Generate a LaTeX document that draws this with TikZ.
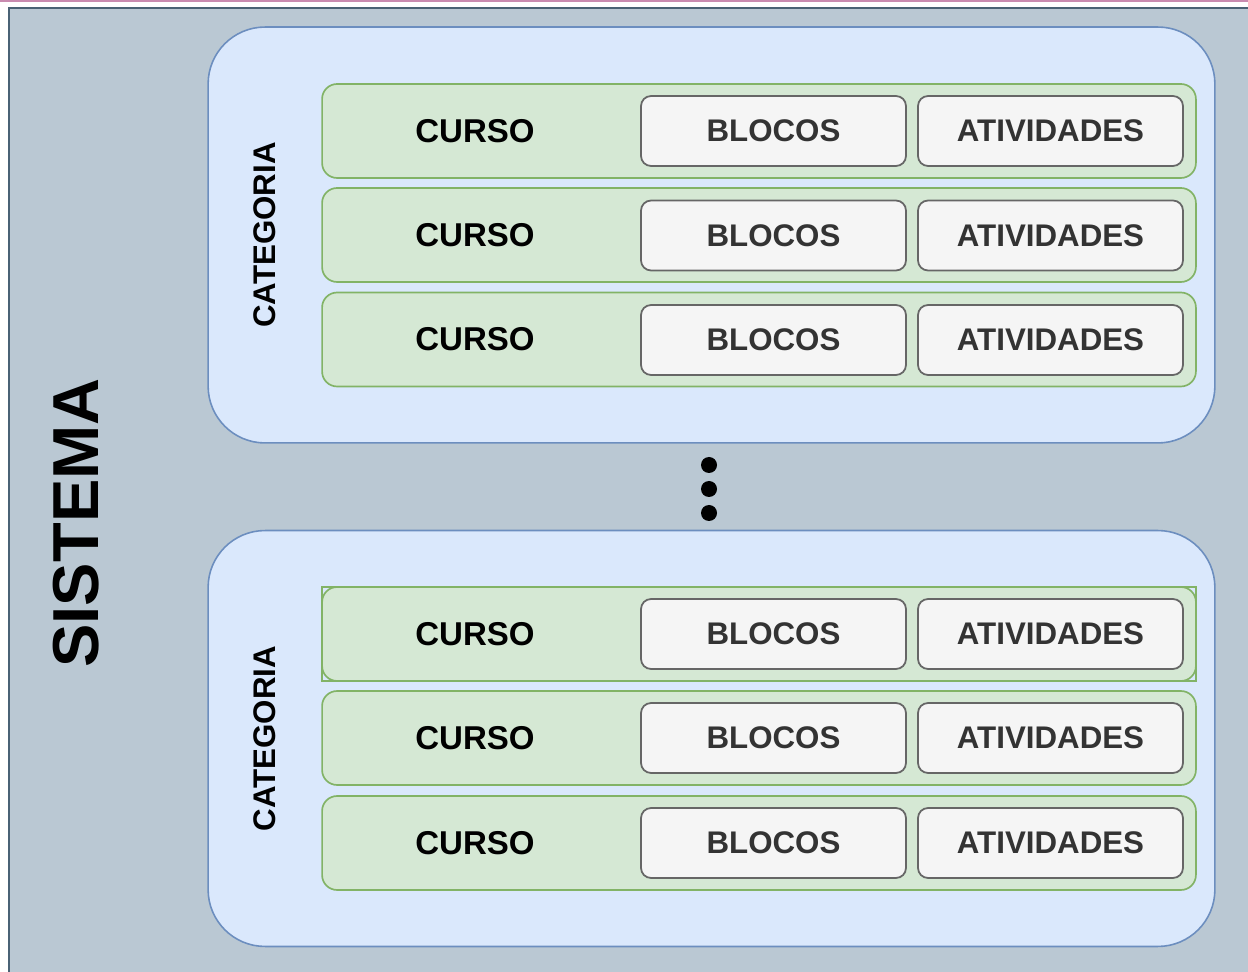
\documentclass[tikz,border=0pt]{standalone}
\usepackage{fontspec}
\setmainfont{Liberation Sans}
\definecolor{cinzaFundo}{HTML}{BAC8D3}
\definecolor{cinzaBorda}{HTML}{4A6275}
\definecolor{azulFundo}{HTML}{DAE8FC}
\definecolor{azulBorda}{HTML}{6C8EBF}
\definecolor{verdeFundo}{HTML}{D5E8D4}
\definecolor{verdeBorda}{HTML}{82B366}
\definecolor{cinzaCaixa}{HTML}{F5F5F5}
\definecolor{cinzaTraco}{HTML}{666666}
\definecolor{cinzaTexto}{HTML}{333333}
\definecolor{rosaLinha}{HTML}{C98BB0}

\begin{document}
\begin{tikzpicture}[x=0.02cm,y=-0.02cm,
    categoria/.style={rectangle,rounded corners=1.14cm,fill=azulFundo,draw=azulBorda,line width=0.9pt,
      minimum width=20.14cm,minimum height=8.32cm,inner sep=0pt,outer sep=0pt},
    curso/.style={rectangle,rounded corners=0.3cm,fill=verdeFundo,draw=verdeBorda,line width=0.95pt,
      minimum width=17.48cm,minimum height=1.88cm,inner sep=0pt,outer sep=0pt},
    caixa/.style={rectangle,rounded corners=0.2cm,fill=cinzaCaixa,draw=cinzaTraco,line width=1pt,
      minimum width=5.3cm,minimum height=1.4cm,inner sep=0pt,outer sep=0pt,
      text=cinzaTexto,font=\bfseries\fontsize{17.8}{20}\selectfont},
    rotulo/.style={font=\bfseries\fontsize{18.8}{20}\selectfont},
    ponto/.style={circle,fill=black,minimum size=0.32cm,inner sep=0pt}]
        \clip (0,0) rectangle (1248,972);
        % fundo
        \fill[white] (0,0) rectangle (1248,972);
        \draw[rosaLinha,line width=1pt] (0,1) -- (1248,1);
        \draw[fill=cinzaFundo,draw=cinzaBorda,line width=1pt] (9,8) rectangle (1270,990);
        \node[rotate=90,font=\bfseries\fontsize{37}{40}\selectfont] (sistema) at (76,523) {SISTEMA};

        % primeira categoria
        \node[categoria] (cat1) at (711.5,235) {};
        \node[rotate=90,font=\bfseries\fontsize{17.8}{20}\selectfont] (rot1) at (265,235) {CATEGORIA};
        \node[curso] (c11) at (759,131) {};
        \node[curso] (c12) at (759,235) {};
        \node[curso] (c13) at (759,339.5) {};
        \node[rotulo] (n11) at (475,131) {CURSO};
        \node[rotulo] (n12) at (475,235) {CURSO};
        \node[rotulo] (n13) at (475,339.5) {CURSO};
        \node[caixa] (b11) at (773.5,131) {BLOCOS};
        \node[caixa] (b12) at (773.5,235.5) {BLOCOS};
        \node[caixa] (b13) at (773.5,340) {BLOCOS};
        \node[caixa] (a11) at (1050.5,131) {ATIVIDADES};
        \node[caixa] (a12) at (1050.5,235.5) {ATIVIDADES};
        \node[caixa] (a13) at (1050.5,340) {ATIVIDADES};

        % reticencias
        \node[ponto] (p1) at (709,465) {};
        \node[ponto] (p2) at (709,489) {};
        \node[ponto] (p3) at (709,513) {};

        % segunda categoria
        \node[categoria] (cat2) at (711.5,738.5) {};
        \node[rotate=90,font=\bfseries\fontsize{17.8}{20}\selectfont] (rot2) at (265,738.5) {CATEGORIA};
        \node[curso] (c21) at (759,634) {};
        \draw[verdeBorda,line width=0.95pt] (c21.south west) rectangle (c21.north east);
        \node[curso] (c22) at (759,738) {};
        \node[curso] (c23) at (759,843) {};
        \node[rotulo] (n21) at (475,634) {CURSO};
        \node[rotulo] (n22) at (475,738) {CURSO};
        \node[rotulo] (n23) at (475,843) {CURSO};
        \node[caixa] (b21) at (773.5,634) {BLOCOS};
        \node[caixa] (b22) at (773.5,738) {BLOCOS};
        \node[caixa] (b23) at (773.5,843) {BLOCOS};
        \node[caixa] (a21) at (1050.5,634) {ATIVIDADES};
        \node[caixa] (a22) at (1050.5,738) {ATIVIDADES};
        \node[caixa] (a23) at (1050.5,843) {ATIVIDADES};
    \end{tikzpicture}
\end{document}
